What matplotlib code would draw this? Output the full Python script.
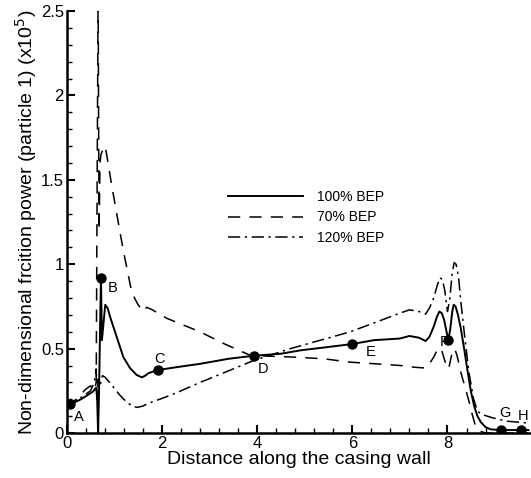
import matplotlib
matplotlib.use('Agg')
import matplotlib.pyplot as plt
from matplotlib.ticker import MultipleLocator

plt.rcParams['font.family'] = ['Liberation Sans', 'DejaVu Sans']

# 100% BEP (linea continua)
x_100 = [0.0, 0.07, 0.3, 0.55, 0.62, 0.64, 0.66, 0.68, 0.70, 0.72, 0.74, 0.81, 0.86, 0.91, 1.05, 1.19,
         1.33, 1.47, 1.58, 1.65, 1.72, 1.91, 2.3, 2.8, 3.4, 3.93, 4.5, 4.91, 5.5, 5.99, 6.45, 7.0, 7.2,
         7.4, 7.54, 7.62, 7.71, 7.78, 7.83, 7.88, 7.93, 7.98, 8.02, 8.06, 8.1, 8.13, 8.17, 8.22, 8.28,
         8.35, 8.42, 8.49, 8.56, 8.63, 8.7, 8.8, 8.91, 9.1, 9.54, 9.7]
y_100 = [0.16, 0.17, 0.2, 0.245, 0.27, 0.2, 0.0, 0.25, 0.6, 0.92, 0.55, 0.76, 0.74, 0.69, 0.57, 0.45,
         0.385, 0.344, 0.33, 0.34, 0.355, 0.373, 0.39, 0.41, 0.44, 0.458, 0.47, 0.49, 0.51, 0.527, 0.55, 0.56, 0.575,
         0.565, 0.545, 0.57, 0.63, 0.69, 0.72, 0.71, 0.67, 0.6, 0.55, 0.62, 0.72, 0.76, 0.75, 0.70, 0.62,
         0.5, 0.37, 0.25, 0.16, 0.1, 0.065, 0.035, 0.022, 0.018, 0.018, 0.018]

# 70% BEP (linea a trazos)
x_70 = [0.0, 0.2, 0.4, 0.5, 0.58, 0.62, 0.64, 0.66, 0.68, 0.7, 0.72, 0.76, 0.81, 0.95, 1.19, 1.37, 1.5,
        1.61, 1.68, 1.8, 2.1, 2.8, 3.3, 3.86, 4.3, 4.77, 5.4, 5.96, 6.5, 7.02, 7.3, 7.54, 7.62, 7.71,
        7.8, 7.87, 7.93, 8.0, 8.04, 8.1, 8.15, 8.2, 8.28, 8.37, 8.45, 8.52, 8.58, 8.65, 8.8, 9.7]
y_70 = [0.16, 0.2, 0.26, 0.28, 0.25, 0.3, 1.5, 2.6, 1.2, 1.6, 1.65, 1.68, 1.7, 1.46, 1.08, 0.83, 0.76,
        0.72, 0.745, 0.73, 0.68, 0.6, 0.53, 0.46, 0.455, 0.45, 0.44, 0.42, 0.41, 0.40, 0.39, 0.385, 0.41, 0.45,
        0.5, 0.5, 0.44, 0.38, 0.4, 0.48, 0.5, 0.46, 0.36, 0.27, 0.19, 0.11, 0.05, 0.015, 0.0, 0.0]

# 120% BEP (linea trazo-punto)
x_120 = [0.0, 0.07, 0.3, 0.5, 0.58, 0.62, 0.64, 0.66, 0.7, 0.75, 0.81, 0.9, 1.0, 1.1, 1.2, 1.3, 1.4,
         1.48, 1.6, 1.75, 2.0, 2.32, 2.8, 2.98, 3.93, 4.7, 5.96, 7.0, 7.2, 7.4, 7.54, 7.62, 7.71, 7.78,
         7.84, 7.89, 7.94, 8.0, 8.05, 8.1, 8.14, 8.18, 8.23, 8.28, 8.35, 8.45, 8.55, 8.63, 8.72, 8.84,
         8.95, 9.26, 9.68]
y_120 = [0.15, 0.17, 0.21, 0.25, 0.3, 0.38, 0.2, 0.32, 0.28, 0.34, 0.33, 0.3, 0.265, 0.23, 0.2, 0.175, 0.158,
         0.152, 0.16, 0.18, 0.205, 0.24, 0.3, 0.32, 0.43, 0.5, 0.6, 0.71, 0.73, 0.72, 0.705, 0.74, 0.8, 0.87,
         0.92, 0.91, 0.85, 0.72, 0.8, 0.95, 1.01, 1.0, 0.93, 0.78, 0.6, 0.36, 0.2, 0.13, 0.11, 0.1,
         0.09, 0.07, 0.06]

# Puntos marcados A..H
pt_x = [0.07, 0.72, 1.91, 3.93, 5.99, 8.02, 9.12, 9.54]
pt_y = [0.17, 0.92, 0.373, 0.458, 0.527, 0.55, 0.018, 0.018]
pt_lbl = ['A', 'B', 'C', 'D', 'E', 'F', 'G', 'H']
lbl_x = [0.26, 0.97, 1.96, 4.12, 6.39, 7.93, 9.21, 9.59]
lbl_y = [0.097, 0.86, 0.44, 0.38, 0.48, 0.54, 0.12, 0.10]

fig = plt.figure(figsize=(5.31, 4.78), dpi=100)
ax = fig.add_axes([0.1256, 0.094, 0.874, 0.883])

ax.plot(x_100, y_100, color='black', linewidth=1.4, linestyle='-', label='100% BEP')
ax.plot(x_70, y_70, color='black', linewidth=1.1, linestyle=(0, (8, 6)), label='70% BEP')
ax.plot(x_120, y_120, color='black', linewidth=1.1, linestyle=(0, (8, 3, 1.5, 3)), label='120% BEP')
ax.plot(pt_x, pt_y, linestyle='none', marker='o', markersize=6.5, color='black')

for i in range(len(pt_lbl)):
    ax.text(lbl_x[i], lbl_y[i], pt_lbl[i], fontsize=10.5, ha='center', va='center')

ax.set_xlim(0, 9.75)
ax.set_ylim(0, 2.5)
ax.xaxis.set_minor_locator(MultipleLocator(0.4))
ax.yaxis.set_minor_locator(MultipleLocator(0.1))
ax.set_xticks([0, 2, 4, 6, 8])
ax.set_xticklabels(['0', '2', '4', '6', '8'])
ax.set_yticks([0, 0.5, 1, 1.5, 2, 2.5])
ax.set_yticklabels(['0', '0.5', '1', '1.5', '2', '2.5'])
ax.tick_params(which='major', direction='in', length=6, width=1.5, labelsize=12, pad=2)
ax.tick_params(which='minor', direction='in', length=3.5, width=1)
ax.spines['top'].set_visible(False)
ax.spines['right'].set_visible(False)
ax.spines['left'].set_linewidth(1.8)
ax.spines['bottom'].set_linewidth(1.8)

ax.set_xlabel('Distance along the casing wall', fontsize=14, labelpad=0)
ax.set_ylabel('Non-dimensional frcition power (particle 1) (x10$^5$)', fontsize=14, labelpad=1)

ax.legend(loc='upper left', bbox_to_anchor=(0.429, 0.603), bbox_transform=fig.transFigure,
          frameon=False, fontsize=10, handlelength=5.4, handletextpad=1.0, labelspacing=0.48,
          borderpad=0, borderaxespad=0)

fig.savefig('out.png', dpi=100)
